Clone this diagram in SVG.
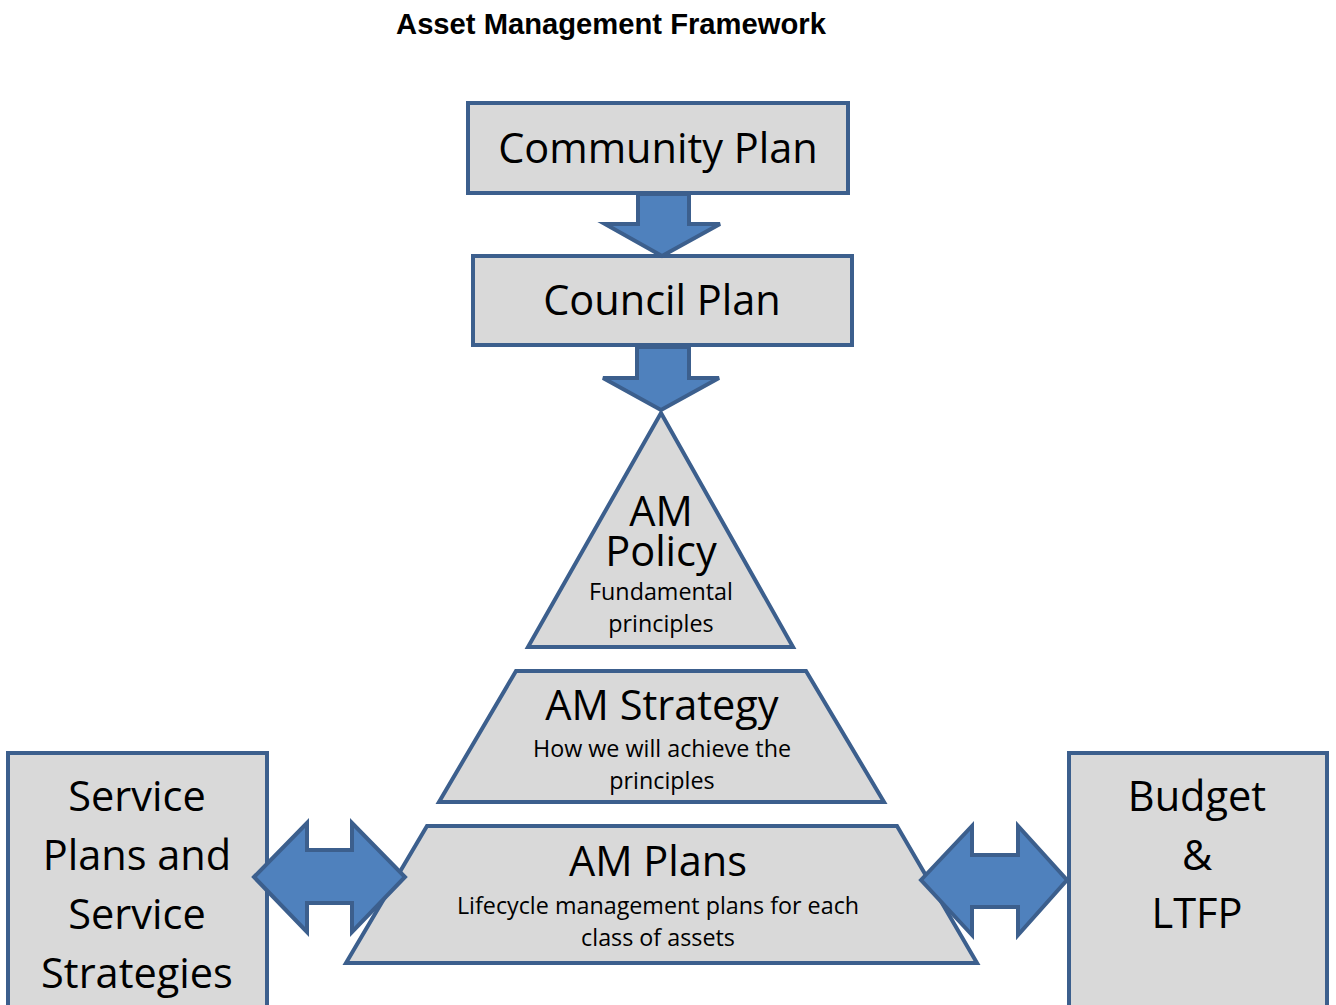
<svg xmlns="http://www.w3.org/2000/svg" width="1336" height="1005" viewBox="0 0 1336 1005">
  <style>
    .shape { fill: #D9D9D9; stroke: #3C5F8D; stroke-width: 4; stroke-linejoin: miter; }
    .arrow { fill: #4F81BD; stroke: #3C5F8D; stroke-width: 4; stroke-linejoin: miter; }
    .big { font-family: "Open Sans", "Noto Sans", sans-serif; font-size: 41.5px; fill: #000; text-anchor: middle; }
    .small { font-family: "Open Sans", "Noto Sans", sans-serif; font-size: 23.3px; fill: #000; text-anchor: middle; }
    .title { font-family: "Liberation Sans", Arial, sans-serif; font-weight: bold; font-size: 29.2px; fill: #000; text-anchor: middle; }
  </style>
  <rect width="1336" height="1005" fill="#FFFFFF"/>

  <text class="title" x="611" y="34">Asset Management Framework</text>

  <g id="community-plan">
    <rect class="shape" x="468" y="103" width="380" height="90"/>
    <text class="big" x="658" y="163">Community Plan</text>
  </g>

  <g id="council-plan">
    <rect class="shape" x="473" y="256" width="379" height="89"/>
    <text class="big" x="662" y="315">Council Plan</text>
  </g>

  <g id="am-policy">
    <polygon class="shape" points="661,413 793,647 528,647"/>
    <text class="big" x="661" y="526">AM</text>
    <text class="big" x="661" y="566">Policy</text>
    <text class="small" x="661" y="600">Fundamental</text>
    <text class="small" x="661" y="632">principles</text>
  </g>

  <g id="am-strategy">
    <polygon class="shape" points="516,671 806,671 884,802 439,802"/>
    <text class="big" x="662" y="720">AM Strategy</text>
    <text class="small" x="662" y="757">How we will achieve the</text>
    <text class="small" x="662" y="789">principles</text>
  </g>

  <g id="am-plans">
    <polygon class="shape" points="427,826 897,826 977,963 346,963"/>
    <text class="big" x="658" y="876">AM Plans</text>
    <text class="small" x="658" y="914">Lifecycle management plans for each</text>
    <text class="small" x="658" y="946">class of assets</text>
  </g>

  <g id="service-plans">
    <rect class="shape" x="8" y="753" width="259" height="262"/>
    <text class="big" x="137" y="811">Service</text>
    <text class="big" x="137" y="870">Plans and</text>
    <text class="big" x="137" y="929">Service</text>
    <text class="big" x="137" y="988">Strategies</text>
  </g>

  <g id="budget-ltfp">
    <rect class="shape" x="1069" y="753" width="258" height="262"/>
    <text class="big" x="1197" y="811">Budget</text>
    <text class="big" x="1197" y="870">&amp;</text>
    <text class="big" x="1197" y="928">LTFP</text>
  </g>

  <g id="connectors">
    <!-- Community Plan to Council Plan -->
    <polygon class="arrow" points="638,194 689,194 689,224 720,224 662,256 605,224 638,224"/>
    <!-- Council Plan to AM Policy -->
    <polygon class="arrow" points="637,347 689,347 689,378 719,378 661,410 603,378 637,378"/>
    <!-- Service Plans and AM Plans (both ways) -->
    <polygon class="arrow" points="254,877 307,823 307,850 352,850 352,823 405,877 352,932 352,903 307,903 307,932"/>
    <!-- AM Plans and Budget & LTFP (both ways) -->
    <polygon class="arrow" points="921,880 972,826 972,855 1018,855 1018,826 1067,880 1018,935 1018,907 972,907 972,935"/>
  </g>
</svg>
